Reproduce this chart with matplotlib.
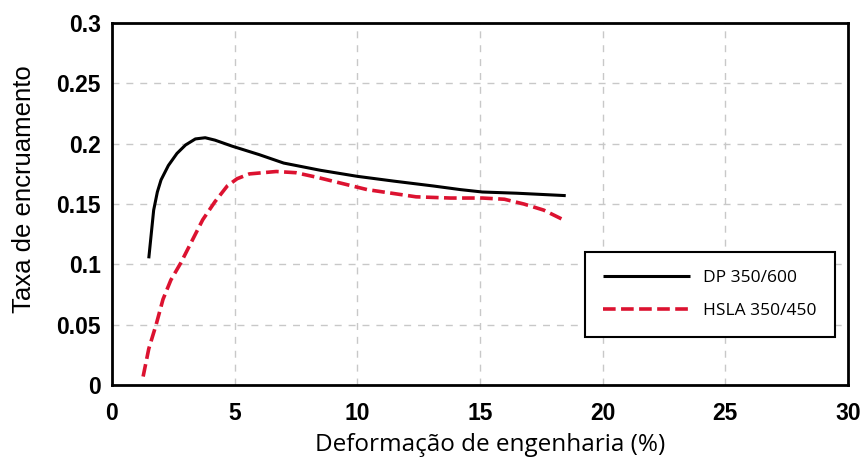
import matplotlib.pyplot as plt

# valores
dp_x = [1.5, 1.6, 1.7, 1.85, 2.0, 2.3, 2.65, 3.0, 3.4, 3.8, 4.2, 4.9, 6.0, 7.0, 8.5, 10.0, 11.5, 13.1, 14.2, 15.1, 16.5, 18.5]
dp_y = [0.105, 0.125, 0.145, 0.16, 0.17, 0.182, 0.192, 0.199, 0.204, 0.205, 0.203, 0.198, 0.191, 0.184, 0.178, 0.173, 0.169, 0.165, 0.162, 0.160, 0.159, 0.157]

hsla_x = [1.27, 1.5, 1.8, 2.08, 2.4, 2.8, 3.2, 3.7, 4.2, 4.7, 5.1, 5.6, 6.7, 7.5, 8.4, 9.4, 10.4, 11.4, 12.4, 13.8, 15.1, 16.0, 16.8, 17.6, 18.4]
hsla_y = [0.007, 0.03, 0.05, 0.071, 0.087, 0.101, 0.117, 0.137, 0.152, 0.165, 0.171, 0.175, 0.177, 0.176, 0.172, 0.167, 0.162, 0.159, 0.156, 0.155, 0.155, 0.154, 0.150, 0.145, 0.137]

x_ticks = [0, 5, 10, 15, 20, 25, 30]
y_ticks = [0, 0.05, 0.1, 0.15, 0.2, 0.25, 0.3]
y_tick_labels = ["0", "0.05", "0.1", "0.15", "0.2", "0.25", "0.3"]

fig = plt.figure(figsize=(8.66, 4.63), dpi=100)
ax = fig.add_axes([0.1293, 0.1685, 0.8497, 0.7815])

ax.plot(dp_x, dp_y, color="black", lw=2.2, label="DP 350/600", solid_capstyle="butt")
ax.plot(hsla_x, hsla_y, color="#dc1230", lw=2.6, ls=(0, (3.5, 1.5)), label="HSLA 350/450")

ax.set_xlim(0, 30)
ax.set_ylim(0, 0.3)
ax.set_xticks(x_ticks)
ax.set_yticks(y_ticks)
ax.set_yticklabels(y_tick_labels)
ax.tick_params(axis="y", length=0, pad=8)
ax.tick_params(axis="x", length=0, pad=12)
for lbl in ax.get_xticklabels() + ax.get_yticklabels():
    lbl.set_fontfamily("Liberation Sans")
    lbl.set_fontweight("bold")
    lbl.set_fontsize(16.5)

ax.grid(True, color="#c8c8c8", ls=(0, (5, 5)), lw=1)
for s in ax.spines.values():
    s.set_linewidth(2)

ax.set_xlabel("Deformação de engenharia (%)", fontsize=17.5, fontfamily="Open Sans")
ax.set_ylabel("Taxa de encruamento", fontsize=18.5, fontfamily="Liberation Sans")
ax.xaxis.set_label_coords(0.514, -0.134)
ax.yaxis.set_label_coords(-0.103, 0.54)

leg = ax.legend(loc="lower right", bbox_to_anchor=(0.982, 0.133), borderaxespad=0,
                fancybox=False, edgecolor="black", framealpha=1, fontsize=12.5,
                handlelength=5.0, borderpad=1.05, labelspacing=0.95, handletextpad=0.75)
leg.get_frame().set_linewidth(1.5)
for t in leg.get_texts():
    t.set_fontfamily("Open Sans")

fig.savefig("out.png", dpi=100)
